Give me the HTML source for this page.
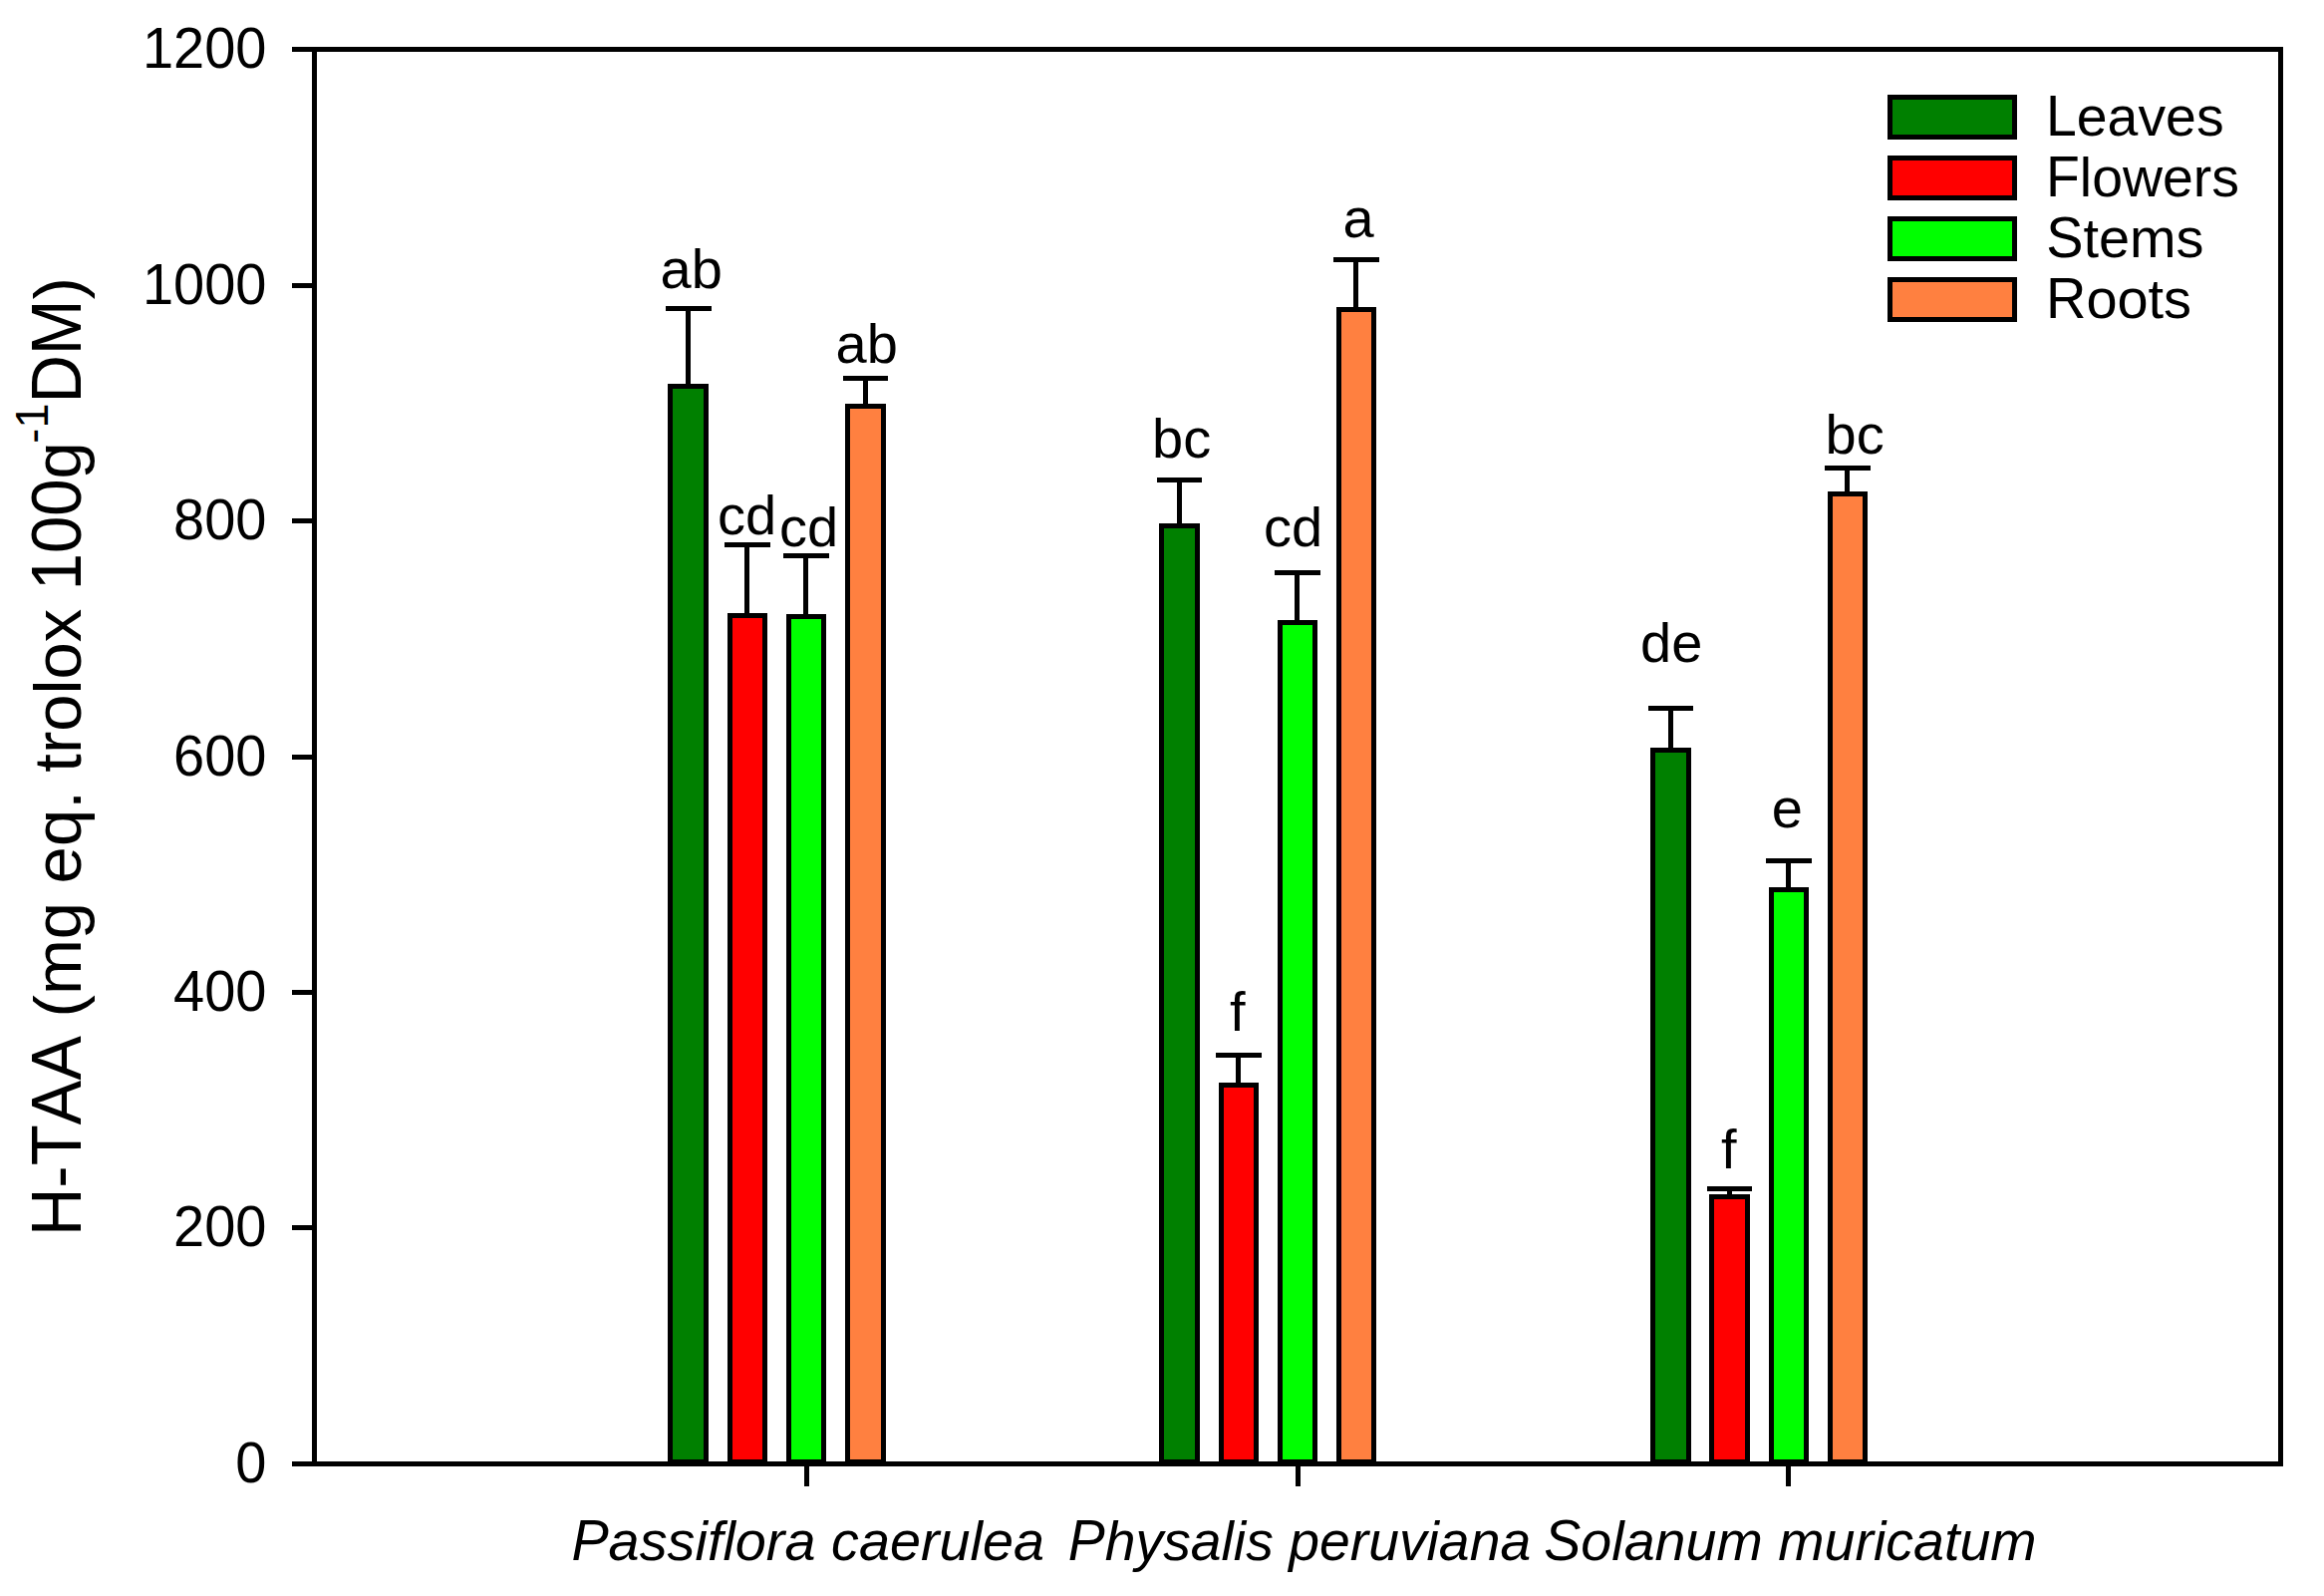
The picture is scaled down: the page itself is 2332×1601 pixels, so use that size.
<!DOCTYPE html>
<html lang="en">
<head>
<meta charset="utf-8">
<title>H-TAA chart</title>
<style>
html,body{margin:0;padding:0;background:#fff;}
body{width:2332px;height:1601px;overflow:hidden;}
svg{display:block;}
text{font-family:"Liberation Sans",Arial,Helvetica,sans-serif;fill:#000;font-kerning:none;}
.t{font-size:56px;}
.it{font-size:56px;font-style:italic;}
.yl{font-size:67px;}
</style>
</head>
<body>
<svg width="2332" height="1601" viewBox="0 0 2332 1601">
<rect x="0" y="0" width="2332" height="1601" fill="#fff"/>
<g shape-rendering="crispEdges">
<rect x="670" y="385" width="41" height="1084" fill="#000"/><rect x="675" y="390" width="31" height="1074" fill="#008000"/><rect x="688" y="307" width="5" height="78" fill="#000"/><rect x="668" y="307" width="46" height="5" fill="#000"/>
<rect x="730" y="615" width="40" height="854" fill="#000"/><rect x="735" y="620" width="30" height="844" fill="#ff0000"/><rect x="747" y="544" width="5" height="71" fill="#000"/><rect x="727" y="544" width="46" height="5" fill="#000"/>
<rect x="789" y="616" width="40" height="853" fill="#000"/><rect x="794" y="621" width="30" height="843" fill="#00ff00"/><rect x="806" y="555" width="5" height="61" fill="#000"/><rect x="786" y="555" width="46" height="5" fill="#000"/>
<rect x="848" y="405" width="41" height="1064" fill="#000"/><rect x="853" y="410" width="31" height="1054" fill="#ff8040"/><rect x="866" y="377" width="5" height="28" fill="#000"/><rect x="846" y="377" width="45" height="5" fill="#000"/>
<rect x="1163" y="525" width="41" height="944" fill="#000"/><rect x="1168" y="530" width="31" height="934" fill="#008000"/><rect x="1181" y="479" width="5" height="46" fill="#000"/><rect x="1161" y="479" width="45" height="5" fill="#000"/>
<rect x="1223" y="1086" width="40" height="383" fill="#000"/><rect x="1228" y="1091" width="30" height="373" fill="#ff0000"/><rect x="1240" y="1056" width="5" height="30" fill="#000"/><rect x="1220" y="1056" width="46" height="5" fill="#000"/>
<rect x="1282" y="622" width="40" height="847" fill="#000"/><rect x="1287" y="627" width="30" height="837" fill="#00ff00"/><rect x="1299" y="572" width="5" height="50" fill="#000"/><rect x="1279" y="572" width="46" height="5" fill="#000"/>
<rect x="1341" y="308" width="40" height="1161" fill="#000"/><rect x="1346" y="313" width="30" height="1151" fill="#ff8040"/><rect x="1358" y="258" width="5" height="50" fill="#000"/><rect x="1338" y="258" width="46" height="5" fill="#000"/>
<rect x="1656" y="750" width="41" height="719" fill="#000"/><rect x="1661" y="755" width="31" height="709" fill="#008000"/><rect x="1674" y="708" width="5" height="42" fill="#000"/><rect x="1654" y="708" width="45" height="5" fill="#000"/>
<rect x="1715" y="1198" width="41" height="271" fill="#000"/><rect x="1720" y="1203" width="31" height="261" fill="#ff0000"/><rect x="1733" y="1190" width="5" height="8" fill="#000"/><rect x="1713" y="1190" width="45" height="5" fill="#000"/>
<rect x="1775" y="890" width="40" height="579" fill="#000"/><rect x="1780" y="895" width="30" height="569" fill="#00ff00"/><rect x="1792" y="861" width="5" height="29" fill="#000"/><rect x="1772" y="861" width="46" height="5" fill="#000"/>
<rect x="1834" y="493" width="40" height="976" fill="#000"/><rect x="1839" y="498" width="30" height="966" fill="#ff8040"/><rect x="1851" y="467" width="5" height="26" fill="#000"/><rect x="1831" y="467" width="46" height="5" fill="#000"/>
<rect x="293" y="47" width="1998" height="5" fill="#000"/><rect x="293" y="1466" width="1998" height="5" fill="#000"/><rect x="313" y="47" width="5" height="1424" fill="#000"/><rect x="2286" y="47" width="5" height="1424" fill="#000"/>
<rect x="293" y="284" width="20" height="5" fill="#000"/><rect x="293" y="520" width="20" height="5" fill="#000"/><rect x="293" y="757" width="20" height="5" fill="#000"/><rect x="293" y="993" width="20" height="5" fill="#000"/><rect x="293" y="1229" width="20" height="5" fill="#000"/>
<rect x="807" y="1471" width="5" height="20" fill="#000"/><rect x="1300" y="1471" width="5" height="20" fill="#000"/><rect x="1792" y="1471" width="5" height="20" fill="#000"/>
<rect x="1894" y="95" width="130" height="45" fill="#000"/><rect x="1899" y="100" width="120" height="35" fill="#008000"/>
<rect x="1894" y="156" width="130" height="45" fill="#000"/><rect x="1899" y="161" width="120" height="35" fill="#ff0000"/>
<rect x="1894" y="217" width="130" height="45" fill="#000"/><rect x="1899" y="222" width="120" height="35" fill="#00ff00"/>
<rect x="1894" y="278" width="130" height="45" fill="#000"/><rect x="1899" y="283" width="120" height="35" fill="#ff8040"/>
</g>
<text class="t" transform="translate(2053,136) scale(0.9890,1)"><tspan font-size="58.27px" textLength="31.14" lengthAdjust="spacingAndGlyphs">L</tspan>eaves</text>
<text class="t" transform="translate(2053,197) scale(0.9897,1)"><tspan font-size="58.27px" textLength="34.21" lengthAdjust="spacingAndGlyphs">F</tspan>lowers</text>
<text class="t" transform="translate(2053.2,258) scale(0.9975,1)"><tspan font-size="58.27px" textLength="37.35" lengthAdjust="spacingAndGlyphs">S</tspan>tems</text>
<text class="t" transform="translate(2053,319) scale(0.9987,1)"><tspan font-size="58.27px" textLength="40.44" lengthAdjust="spacingAndGlyphs">R</tspan>oots</text>
<text class="t" x="142.92" y="68"><tspan font-size="58.27px" textLength="124.58" lengthAdjust="spacingAndGlyphs">1200</tspan></text>
<text class="t" x="142.92" y="305"><tspan font-size="58.27px" textLength="124.58" lengthAdjust="spacingAndGlyphs">1000</tspan></text>
<text class="t" x="174.07" y="541"><tspan font-size="58.27px" textLength="93.43" lengthAdjust="spacingAndGlyphs">800</tspan></text>
<text class="t" x="174.07" y="778"><tspan font-size="58.27px" textLength="93.43" lengthAdjust="spacingAndGlyphs">600</tspan></text>
<text class="t" x="174.07" y="1014"><tspan font-size="58.27px" textLength="93.43" lengthAdjust="spacingAndGlyphs">400</tspan></text>
<text class="t" x="174.07" y="1250"><tspan font-size="58.27px" textLength="93.43" lengthAdjust="spacingAndGlyphs">200</tspan></text>
<text class="t" x="236.36" y="1487"><tspan font-size="58.27px" textLength="31.14" lengthAdjust="spacingAndGlyphs">0</tspan></text>
<text class="t" x="662.50" y="289">ab</text>
<text class="t" x="720.00" y="536">cd</text>
<text class="t" x="782.00" y="548">cd</text>
<text class="t" x="838.50" y="364">ab</text>
<text class="t" x="1156.00" y="459">bc</text>
<text class="t" x="1234.00" y="1034">f</text>
<text class="t" x="1268.00" y="548">cd</text>
<text class="t" x="1347.50" y="238">a</text>
<text class="t" x="1646.00" y="664">de</text>
<text class="t" x="1727.00" y="1172">f</text>
<text class="t" x="1777.80" y="830">e</text>
<text class="t" x="1831.50" y="455">bc</text>
<text class="it" transform="translate(573.4,1564.5) scale(0.9969,1)"><tspan font-size="58.27px" textLength="37.35" lengthAdjust="spacingAndGlyphs">P</tspan>assiflora caerulea</text>
<text class="it" transform="translate(1071.8,1564.5) scale(0.9882,1)"><tspan font-size="58.27px" textLength="37.35" lengthAdjust="spacingAndGlyphs">P</tspan>hysalis peruviana</text>
<text class="it" transform="translate(1549.3,1564.5) scale(0.9929,1)"><tspan font-size="58.27px" textLength="37.35" lengthAdjust="spacingAndGlyphs">S</tspan>olanum muricatum</text>
<text class="yl" transform="translate(81,1240) rotate(-90)"><tspan font-size="69.71px" textLength="48.39" lengthAdjust="spacingAndGlyphs">H</tspan>-<tspan font-size="69.71px" textLength="130.30" lengthAdjust="spacingAndGlyphs">TAA</tspan> (mg eq. trolox <tspan font-size="69.71px" textLength="111.79" lengthAdjust="spacingAndGlyphs">100</tspan>g<tspan font-size="45px" dy="-33" dx="-1.5">-<tspan font-size="46.82px" textLength="25.03" lengthAdjust="spacingAndGlyphs">1</tspan></tspan><tspan dy="33"><tspan font-size="69.71px" textLength="104.20" lengthAdjust="spacingAndGlyphs">DM</tspan>)</tspan></text>
</svg>
</body>
</html>
